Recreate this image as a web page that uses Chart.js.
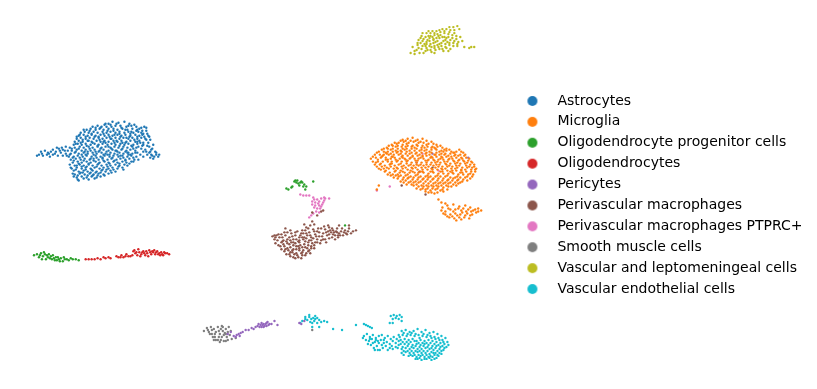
<!DOCTYPE html>
<html><head><meta charset="utf-8">
<script src="https://cdn.jsdelivr.net/npm/chart.js@4"></script>
<style>html,body{margin:0;padding:0;background:#fff}canvas{display:block}</style>
</head><body><canvas id="c" width="817" height="389"></canvas>
<script>
const categories=["Astrocytes","Microglia","Oligodendrocyte progenitor cells","Oligodendrocytes","Pericytes","Perivascular macrophages","Perivascular macrophages PTPRC+","Smooth muscle cells","Vascular and leptomeningeal cells","Vascular endothelial cells"];
const colors=["#1f77b4","#ff7f0e","#2ca02c","#d62728","#9467bd","#8c564b","#e377c2","#7f7f7f","#bcbd22","#17becf"];
// Flat lists of UMAP1,UMAP2 pairs
const astrocytes=[108,124,112,122,118,123,124,122,104,125,129,124,92,127,97,126,101,127,106,127,110,125,115,126,120,126,126,127,131,126,136,127,141,128,86,130,90,129,95,130,99,129,103,130,108,129,113,129,117,130,122,129,127,130,132,129,137,130,142,131,146,131,80,133,84,132,88,133,93,132,97,133,102,132,106,133,110,132,115,133,119,132,124,133,128,132,133,133,138,132,143,134,147,134,78,136,83,135,87,136,91,135,95,136,100,135,104,136,108,135,112,136,117,135,121,136,125,135,130,136,135,135,139,136,144,137,149,137,76,139,80,138,85,139,89,138,93,139,98,138,102,139,106,138,110,139,115,138,119,139,123,138,128,139,132,138,137,139,141,138,146,140,74,142,78,141,82,142,87,141,91,142,96,141,100,142,104,141,108,142,113,141,117,142,121,141,126,142,130,141,135,142,139,141,143,143,148,143,73,145,77,144,81,145,85,144,90,145,94,144,98,145,102,144,107,145,111,144,115,145,120,144,124,145,128,144,133,145,137,144,142,146,147,146,65,147,69,148,74,148,79,147,83,148,88,147,92,148,97,147,101,148,105,147,110,148,114,147,118,148,123,147,127,148,132,147,136,148,141,149,152,149,58,149,62,150,67,151,71,151,76,150,81,151,85,150,90,151,94,150,99,151,103,150,108,151,112,150,116,151,121,150,126,151,130,150,135,151,146,152,150,152,155,152,44,151,50,152,55,152,60,153,65,154,70,154,74,153,78,154,83,153,87,154,92,153,96,154,101,153,105,154,110,153,114,154,119,153,123,154,128,153,132,154,137,153,147,155,151,155,156,155,159,155,38,155,41,154,46,155,52,155,57,156,62,156,68,157,73,157,77,156,82,157,86,156,91,157,95,156,100,157,104,156,109,157,113,156,118,157,122,156,127,157,131,156,136,157,143,157,150,158,154,157,158,157,42,156,49,157,70,160,75,159,80,160,84,159,89,160,93,159,98,160,102,159,107,160,111,159,116,160,120,159,125,160,129,159,134,160,72,163,77,162,81,163,86,162,90,163,95,162,99,163,104,162,108,163,113,162,117,163,122,162,126,163,131,162,69,165,74,166,79,165,83,166,88,165,92,166,97,165,101,166,106,165,110,166,115,165,119,166,124,165,71,169,76,168,81,169,85,168,90,169,94,168,99,169,103,168,108,169,112,168,117,169,122,168,73,171,78,172,83,171,87,172,92,171,96,172,101,171,105,172,110,171,115,172,74,175,79,174,84,175,89,174,93,175,98,174,103,175,108,174,76,178,81,177,86,178,91,177,96,178,100,177,77,180,83,179,88,180,
100,128,105,124,111,127,116,124,121,128,128,126,134,125,139,129,144,127,95,128,89,131,83,130,107,131,113,131,119,134,125,130,130,134,136,131,141,133,146,128,91,134,85,137,79,135,98,137,103,134,109,137,114,135,120,137,126,138,131,132,137,137,142,135,148,136,82,140,76,137,88,141,94,137,99,140,105,143,111,139,116,141,122,143,129,137,134,140,140,143,145,139,150,140,75,144,80,143,86,146,92,143,97,146,103,142,108,147,114,143,119,146,125,143,131,146,137,142,143,145,149,147,153,145,71,149,78,149,84,152,89,149,95,152,100,149,106,152,111,149,117,152,122,149,127,153,133,149,138,147,145,150,151,150,64,151,69,155,75,152,81,155,87,152,93,155,98,152,103,155,109,155,115,151,120,156,125,152,130,155,135,153,149,153,54,154,59,151,47,153,66,156,72,158,79,158,85,155,90,159,96,158,102,158,107,155,112,158,117,155,123,158,128,155,133,158,152,156,156,153,153,159,36,156,48,154,40,152,73,161,78,164,83,161,88,164,93,161,98,164,103,161,109,164,114,161,119,164,125,161,129,164,76,166,81,167,86,167,91,170,96,167,102,170,107,167,113,170,118,167,123,170,70,168,75,170,80,173,85,170,90,173,95,173,100,173,106,170,111,173,72,174,77,176,82,173,87,176,92,176,97,176,104,176,73,177,78,181,94,179,127,166,133,162,138,160,140,155,143,152,56,148,61,148,52,150];
const microglia=[404,140,409,139,414,138,419,140,424,139,428,141,396,143,400,143,405,142,410,143,415,142,420,143,425,143,430,144,435,144,438,145,390,146,394,146,399,146,404,145,409,146,414,146,419,146,424,146,429,147,434,147,439,147,444,148,448,149,385,149,389,149,394,149,399,149,404,149,408,149,413,149,418,149,423,150,428,150,433,150,438,150,443,151,448,151,453,152,458,152,463,152,380,152,385,152,389,152,394,152,399,152,403,152,408,152,413,153,418,153,423,153,428,153,433,153,438,153,443,154,447,154,452,154,457,155,462,155,467,155,376,155,381,155,385,155,390,155,395,155,400,155,404,156,409,156,414,156,419,156,424,156,428,156,433,157,438,157,443,157,448,157,453,157,458,158,463,158,468,158,372,159,377,158,382,158,387,158,392,159,396,158,401,159,406,159,411,159,416,159,420,159,425,159,430,160,435,160,440,160,445,160,450,160,455,161,460,161,465,161,470,161,473,162,374,162,379,162,384,162,389,162,393,162,398,162,403,162,408,162,413,163,418,163,423,163,428,163,433,163,437,163,442,163,447,164,452,164,457,164,462,164,467,164,472,165,476,165,376,165,381,165,386,166,391,165,396,166,400,165,405,166,410,166,415,166,420,166,425,166,430,167,435,166,440,167,444,167,449,167,454,167,459,168,464,168,469,168,474,168,478,169,380,169,385,169,390,169,395,169,399,169,404,169,409,170,414,169,419,170,424,170,429,170,434,170,439,170,444,170,449,171,454,171,458,171,463,171,468,172,473,172,477,172,386,172,391,173,396,172,401,173,406,173,411,173,416,173,420,173,425,173,430,174,435,173,440,174,445,174,450,174,455,174,460,175,465,175,470,175,475,175,392,176,397,176,402,176,407,176,412,177,417,176,422,177,427,177,432,177,437,177,442,177,447,177,452,178,457,178,462,178,467,178,472,179,399,179,404,180,409,179,414,180,419,180,424,180,429,180,434,180,439,181,444,181,449,181,454,181,459,181,464,182,405,183,410,183,415,183,420,183,425,184,430,184,435,184,440,184,445,184,450,184,455,185,460,184,415,186,420,187,425,187,430,187,435,187,440,187,445,188,450,187,422,190,427,190,432,191,437,190,442,191,430,193,436,194,378,190,380,186,447,204,444,208,449,206,455,205,461,207,467,206,472,208,477,210,483,211,480,212,443,211,447,212,452,210,457,210,463,211,468,212,473,212,478,213,447,215,452,215,457,214,462,215,467,216,472,216,451,218,456,219,461,218,466,218,471,219,440,200,443,203,
402,141,407,141,412,141,417,141,422,142,433,142,393,145,398,144,403,147,408,144,413,147,418,145,423,148,428,145,433,148,437,149,442,146,388,148,392,150,397,147,402,151,407,147,411,151,416,148,421,151,426,148,431,152,436,148,441,152,446,150,451,150,456,153,461,150,383,150,387,153,392,154,397,151,402,154,406,150,411,154,416,151,421,155,426,151,431,155,436,155,441,155,445,152,450,156,455,153,460,156,465,153,378,153,383,157,388,154,393,157,398,153,403,157,407,154,412,158,417,154,422,158,427,154,432,158,437,155,442,159,446,155,451,159,456,156,461,160,466,156,471,159,374,157,379,160,384,156,389,160,394,157,399,161,404,158,409,161,414,157,419,161,424,157,429,161,434,158,439,162,444,158,449,162,454,159,459,163,464,159,469,163,474,163,377,163,382,164,387,160,392,164,397,160,402,164,407,160,412,165,417,161,422,165,427,161,432,165,436,161,441,165,446,162,451,166,456,162,461,166,466,162,471,167,476,167,378,167,383,167,388,168,393,164,398,168,403,167,408,164,413,168,418,165,423,168,428,165,433,169,438,165,443,169,448,165,453,169,458,166,463,170,468,166,473,170,382,170,387,171,392,167,397,171,402,171,407,168,412,171,417,168,422,172,427,168,432,172,437,168,442,172,447,169,452,172,457,169,462,173,467,170,472,174,477,170,389,175,394,175,399,175,404,172,409,175,414,172,419,175,424,172,429,176,434,172,439,176,444,172,449,176,454,173,459,177,464,173,469,177,474,177,395,178,400,177,405,178,410,178,415,178,420,178,425,179,430,178,435,179,440,179,445,179,450,180,455,179,460,180,465,180,469,181,402,182,407,181,412,182,417,182,422,182,427,182,432,182,437,183,442,183,447,183,452,183,457,183,462,183,408,185,413,185,418,185,423,186,428,186,433,186,438,186,443,186,448,186,453,187,458,186,418,189,424,189,429,189,434,189,439,189,444,190,449,190,427,192,433,193,439,193,445,192,450,209,455,212,460,209,465,209,470,210,475,211,445,214,449,217,454,217,459,216,464,213,469,214,474,215,463,220,458,221,480,209];
const opcCells=[33,256,36,255,38,258,40,254,42,257,44,255,45,260,47,258,48,255,50,257,51,260,53,259,55,258,56,261,58,260,60,259,62,262,64,260,66,260,68,261,70,259,72,260,75,260,78,261,41,260,52,256,39,256,43,253,46,256,49,259,54,261,57,258,59,262,63,258,289,190,287,189,292,188,295,182,297,183,299,184,302,182,300,186,303,183,305,185,307,187,306,190,314,182,293,187,296,181,298,181,346,226,301,183,304,187];
const oligodendrocytes=[85,260,88,260,91,260,94,260,97,259,100,260,103,258,105,259,108,258,110,259,116,257,118,258,121,256,123,258,126,255,128,257,130,257,133,252,135,254,137,256,139,253,141,255,143,252,145,256,147,254,149,251,151,255,153,253,155,255,157,252,159,254,161,253,163,256,165,254,167,254,169,255,134,251,138,250,142,253,146,252,150,253,154,251,158,255,162,255,120,258,125,257,132,256,136,253,140,257,144,254,148,257,152,252,156,253,160,256,164,253];
const pericytes=[228,335,231,333,234,337,237,336,239,335,241,334,243,333,246,331,249,331,252,329,254,330,256,328,258,327,260,328,261,326,262,328,263,326,264,325,265,327,266,325,267,324,268,323,270,325,272,325,275,322,278,326,300,324,302,325,305,322,434,154,470,158,418,163,236,338,240,337,259,325,262,324,264,328,267,327,269,326];
const perivascularMac=[273,237,275,240,277,236,280,238,282,235,284,241,286,236,288,233,290,238,292,234,294,240,296,236,298,232,300,238,302,234,304,240,306,231,308,236,310,233,312,238,314,230,316,235,318,232,320,237,322,229,324,234,326,230,328,236,330,228,332,233,334,231,336,236,338,229,340,234,342,232,344,236,346,231,348,235,350,229,352,234,354,232,357,231,276,244,279,246,282,243,285,247,288,244,291,248,294,243,297,247,300,243,303,248,306,242,309,246,312,241,315,246,318,240,321,244,324,240,327,243,330,239,333,238,336,240,339,238,282,250,285,252,288,249,291,253,294,250,297,254,300,249,303,253,306,248,309,252,312,249,315,249,287,255,291,257,295,255,299,258,303,256,307,254,311,254,296,259,302,259,313,222,315,225,311,226,318,216,322,212,324,211,313,213,307,228,286,229,305,225,291,241,299,242,310,241,294,246,305,238,320,233,330,235,340,226,350,226,434,168,421,172,427,195,403,186,
278,241,283,238,287,242,281,247,286,250,290,245,293,237,297,240,301,236,304,234,307,239,311,236,315,232,319,229,323,237,327,233,331,231,335,233,339,236,343,229,347,234,279,235,285,233,291,231,296,233,303,231,309,229,314,239,318,243,322,241,326,240,329,232,333,229,337,232,341,236,345,233,349,232,289,251,293,253,297,250,301,246,305,245,309,243,313,244,317,237,284,245,288,240,292,243,296,244,300,251,304,251,308,249,312,247,316,243,290,255,294,258,298,256,302,254,306,256,310,251,293,251,299,247,283,242,276,238,275,236,300,241,303,238,307,234,325,227,329,226,334,235,338,233];
const macrophagesPTPRC=[301,195,304,196,307,196,310,196,314,198,318,200,322,199,325,198,313,202,316,203,320,202,324,203,313,205,316,206,320,206,323,205,318,209,321,209,317,212,320,213,314,214,312,216,310,218,326,199,330,199,378,191,391,187,424,154,440,171,315,200,319,204,322,207,315,208,325,201];
const smoothMuscle=[204,332,207,329,209,333,211,328,212,335,214,330,215,338,216,333,218,328,218,341,220,335,221,330,222,338,223,328,224,342,225,334,226,330,227,338,228,341,229,328,230,336,232,340,231,332,213,338,216,341,220,343,210,335,224,336,236,339,222,327,313,331,208,331,212,331,215,335,219,332,219,338,223,332,226,335,228,333,214,341,221,341,226,342];
const vlmc=[412,53,416,54,421,53,418,50,423,49,427,51,414,47,419,45,424,46,428,48,432,50,436,53,420,40,424,41,428,42,432,44,436,46,440,47,444,49,448,48,452,49,423,36,427,37,431,38,435,40,439,41,443,43,447,44,451,45,455,46,459,46,428,33,432,33,436,35,440,36,444,37,448,38,452,40,456,41,460,42,434,31,438,31,442,32,446,33,450,34,454,35,458,36,462,37,444,29,448,29,452,30,456,30,451,27,455,27,459,26,464,41,466,47,471,48,473,47,476,47,429,40,437,42,445,41,433,47,441,44,449,42,426,44,430,36,439,34,
425,39,431,41,434,37,438,38,442,35,446,37,450,37,454,38,458,39,422,43,427,46,431,46,435,43,439,45,443,46,447,47,451,43,455,43,459,44,416,51,420,48,425,53,429,50,433,52,437,50,441,49,445,51,450,51,424,33,430,31,436,33,441,30,446,31,451,32,456,33,461,29,435,39,441,38,447,40,432,36,428,44,436,48,419,43,422,38];
const endothelial=[392,317,395,316,398,317,401,316,403,318,394,320,397,319,400,320,403,322,391,324,394,324,357,326,365,325,367,326,369,327,371,328,373,329,301,324,303,322,306,320,308,321,310,318,312,320,314,319,316,320,318,319,320,321,322,323,325,322,328,323,311,323,313,324,315,322,310,316,306,318,316,317,318,324,313,328,320,328,334,330,343,331,365,337,368,335,371,338,374,336,377,339,380,337,383,336,386,339,389,337,392,340,395,338,364,339,367,341,370,342,373,340,376,343,379,342,382,341,385,344,388,343,391,345,394,342,397,344,400,342,372,346,375,349,378,347,381,351,384,349,387,347,391,349,394,350,397,348,376,351,379,351,403,332,407,331,411,333,415,332,419,330,423,333,427,331,431,334,435,333,439,335,443,337,447,339,400,336,404,336,408,337,412,336,416,337,420,336,424,337,428,338,432,337,436,338,440,339,444,341,449,343,398,340,402,341,406,340,410,341,414,340,418,342,422,341,426,342,430,341,434,342,438,343,442,344,446,345,450,346,402,345,406,345,410,345,414,346,418,345,422,346,426,345,430,346,434,347,438,347,442,348,446,349,399,349,403,350,407,349,411,350,415,349,419,350,423,350,427,349,431,350,435,351,439,352,443,352,403,354,407,353,411,354,415,354,419,353,423,354,427,354,431,355,435,354,439,356,443,355,410,357,414,357,418,358,422,357,426,358,430,358,434,358,438,359,423,361,428,360,433,361,419,360,
405,334,409,335,413,334,417,335,421,339,425,335,429,336,433,339,437,340,441,341,445,343,401,338,404,343,408,343,412,343,416,342,420,344,424,344,428,344,432,344,436,345,440,346,444,347,448,348,400,346,404,348,409,347,413,348,417,347,421,348,425,347,429,348,433,349,437,349,441,350,445,351,405,352,409,352,413,352,417,352,421,352,425,352,429,352,433,353,437,354,441,354,405,356,412,356,416,356,420,356,424,356,428,356,432,357,436,356,440,357,417,360,421,359,426,360,431,359,436,360,393,347,389,351,383,346,380,344,377,341,371,340,374,344,385,341,369,345];
const seriesPoints=[astrocytes,microglia,opcCells,oligodendrocytes,pericytes,perivascularMac,macrophagesPTPRC,smoothMuscle,vlmc,endothelial];
const toXY=f=>{const o=[];for(let i=0;i<f.length;i+=2)o.push({x:f[i],y:f[i+1]});return o;};
const disc=col=>{const c=document.createElement('canvas');c.width=12;c.height=12;const g=c.getContext('2d');g.fillStyle=col;g.beginPath();g.arc(6,6,5,0,Math.PI*2);g.fill();return c;};
new Chart(document.getElementById('c'),{
 type:'scatter',
 data:{datasets:categories.map((n,i)=>({label:n,data:toXY(seriesPoints[i]),backgroundColor:colors[i],borderWidth:0,pointRadius:1.2,pointHoverRadius:1.2}))},
 options:{responsive:false,animation:false,
  layout:{padding:{right:4.5,top:1}},
  scales:{x:{type:'linear',display:false,min:0,max:509.5},y:{type:'linear',display:false,min:1,max:389,reverse:true}},
  plugins:{tooltip:{enabled:false},title:{display:false},
   legend:{position:'right',labels:{usePointStyle:true,boxHeight:7,boxWidth:36,pointStyleWidth:36,padding:6.9,color:'#000',font:{family:'DejaVu Sans',size:14},
    generateLabels:ch=>ch.data.datasets.map((d,i)=>({text:d.label,fillStyle:colors[i],strokeStyle:colors[i],lineWidth:0,pointStyle:disc(colors[i]),datasetIndex:i,hidden:false}))}}}
 }
});
</script></body></html>
